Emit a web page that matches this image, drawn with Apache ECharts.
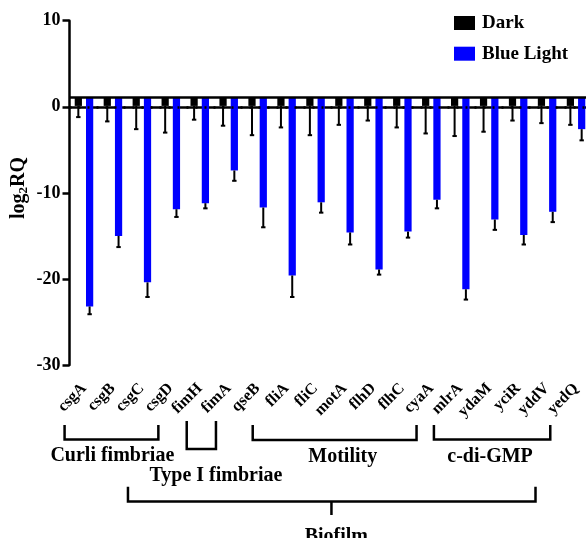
<!DOCTYPE html>
<html>
<head>
<meta charset="utf-8">
<script src="https://cdn.jsdelivr.net/npm/echarts@6/dist/echarts.min.js"></script>
<style>html,body{margin:0;padding:0;background:#fff}#c{width:586px;height:538px}</style>
</head>
<body>
<div id="c"></div>
<script>
const categories = ['csgA','csgB','csgC','csgD','fimH','fimA','qseB','fliA','fliC','motA','flhD','flhC','cyaA','mlrA','ydaM','yciR','yddV','yedQ'];
const darkValues = [0.1,0.1,0.1,0.1,0.1,0.1,0.1,0.1,0.1,0.1,0.1,0.1,0.1,0.1,0.1,0.1,0.1,0.1];
const darkSD = [1.3,1.8,2.7,3.1,1.6,2.3,3.4,2.5,3.4,2.2,1.7,2.5,3.2,3.5,3.0,1.7,2.0,2.2];
const blueValues = [-23.2,-15.0,-20.4,-11.9,-11.2,-7.4,-11.7,-19.6,-11.1,-14.6,-18.9,-14.5,-10.8,-21.2,-13.1,-14.9,-12.2,-2.6];
const blueSD = [0.9,1.3,1.7,0.9,0.6,1.2,2.3,2.5,1.2,1.4,0.6,0.7,1.0,1.2,1.2,1.1,1.2,1.3];
const yTicks = {min:-30, max:10, interval:10};
const barBase = 1.1;
const seriesNames = ['Dark','Blue Light'];
const yTitle = '{a|log}{b|2}{a|RQ}';
const groupLabels = ['Curli fimbriae','Type I fimbriae','Motility','c-di-GMP','Biofilm'];

const FONT = '"Liberation Serif", "DejaVu Serif", serif';
const chart = echarts.init(document.getElementById('c'), null, {renderer:'canvas'});

function makeRender(offsetFrac){
  return function(params, api){
    const i = api.value(0), v = api.value(1), sd = api.value(2);
    const band = api.size([1,0])[0];
    const c0 = api.coord([i, barBase]);
    const c1 = api.coord([i, v]);
    const ce = api.coord([i, v - sd]);
    const x = c0[0] + offsetFrac*band;
    const w = band*0.25;
    return {type:'group', children:[
      {type:'rect', shape:{x:x-w/2, y:Math.min(c0[1],c1[1]), width:w, height:Math.abs(c1[1]-c0[1])}, style:{fill:api.visual('color')}},
      {type:'line', shape:{x1:x, y1:c1[1], x2:x, y2:ce[1]}, style:{stroke:'#000', lineWidth:2}},
      {type:'line', shape:{x1:x-2.2, y1:ce[1], x2:x+2.2, y2:ce[1]}, style:{stroke:'#000', lineWidth:2}}
    ]};
  };
}

chart.setOption({
  animation:false,
  backgroundColor:'#fff',
  grid:{left:69.5, right:-4.5, top:20.7, bottom:173, containLabel:false, outerBoundsMode:'none'},
  legend:{
    data:[{name:seriesNames[0], icon:'rect'},{name:seriesNames[1], icon:'rect'}],
    orient:'vertical', left:449, top:8.5, itemWidth:21, itemHeight:14, itemGap:11.7,
    textStyle:{fontFamily:FONT, fontWeight:'bold', fontSize:19, color:'#000', padding:[0,0,0,2]}
  },
  xAxis:{
    type:'category', data:categories,
    axisLine:{lineStyle:{color:'#000', width:2.5}},
    axisTick:{alignWithLabel:true, length:7, lineStyle:{color:'#000', width:2.5}},
    axisLabel:{rotate:45, margin:21, interval:0, fontFamily:FONT, fontWeight:'bold', fontSize:16, color:'#000'}
  },
  yAxis:{
    type:'value', min:yTicks.min, max:yTicks.max, interval:yTicks.interval,
    splitLine:{show:false},
    axisLine:{show:true, lineStyle:{color:'#000', width:2.5}},
    axisTick:{show:true, length:7, lineStyle:{color:'#000', width:2.5}},
    axisLabel:{margin:9, fontFamily:FONT, fontWeight:'bold', fontSize:18, color:'#000'}
  },
  series:[
    {type:'line', data:[], silent:true, z:1,
     markLine:{silent:true, symbol:'none', label:{show:false}, animation:false,
       data:[
         {yAxis:0, lineStyle:{color:'#000', type:[2,7], width:2.5}},
         {yAxis:barBase, lineStyle:{color:'#000', type:'solid', width:2.5}}
       ]}},
    {name:seriesNames[0], type:'custom', z:3, itemStyle:{color:'#000'},
     renderItem:makeRender(-0.195), encode:{x:0, y:1},
     data:categories.map((c,i)=>[i, darkValues[i], darkSD[i]])},
    {name:seriesNames[1], type:'custom', z:3, itemStyle:{color:'#0000ff'},
     renderItem:makeRender(0.195), encode:{x:0, y:1},
     data:categories.map((c,i)=>[i, blueValues[i], blueSD[i]])}
  ]
});

// group brackets, positioned in category units
const p0 = chart.convertToPixel({xAxisIndex:0}, 0);
const p1 = chart.convertToPixel({xAxisIndex:0}, 1);
const band = p1 - p0;
const X = idx => p0 + idx*band;
const LW = 2.5;
function bracket(a, b, yTop, yBot){
  return {type:'polyline', shape:{points:[[X(a),yTop],[X(a),yBot],[X(b),yBot],[X(b),yTop]]}, style:{stroke:'#000', lineWidth:LW, fill:null}};
}
function label(t, idx, y){
  return {type:'text', style:{text:t, x:X(idx), y:y, align:'center', verticalAlign:'middle', font:'bold 20px ' + FONT, fill:'#000'}};
}
chart.setOption({graphic:[
  {type:'text', x:19, y:188, rotation:Math.PI/2,
   style:{text:yTitle, align:'center', verticalAlign:'middle',
     rich:{
       a:{fontFamily:FONT, fontWeight:'bold', fontSize:20, fill:'#000'},
       b:{fontFamily:FONT, fontWeight:'bold', fontSize:13, fill:'#000', verticalAlign:'bottom', padding:[9,0,0,0]}
     }}},
  bracket(-0.67, 2.57, 425, 439.5), label(groupLabels[0], 0.98, 455.5),
  bracket(3.55, 4.56, 421, 449), label(groupLabels[1], 4.56, 475.5),
  bracket(5.83, 11.49, 425, 440), label(groupLabels[2], 8.94, 456.5),
  bracket(12.09, 16.11, 425, 439.5), label(groupLabels[3], 14.03, 456.5),
  bracket(1.52, 15.6, 486.7, 501.5),
  {type:'line', shape:{x1:X(8.55), y1:501.5, x2:X(8.55), y2:515}, style:{stroke:'#000', lineWidth:LW}},
  label(groupLabels[4], 8.72, 537)
]});
</script>
</body>
</html>
